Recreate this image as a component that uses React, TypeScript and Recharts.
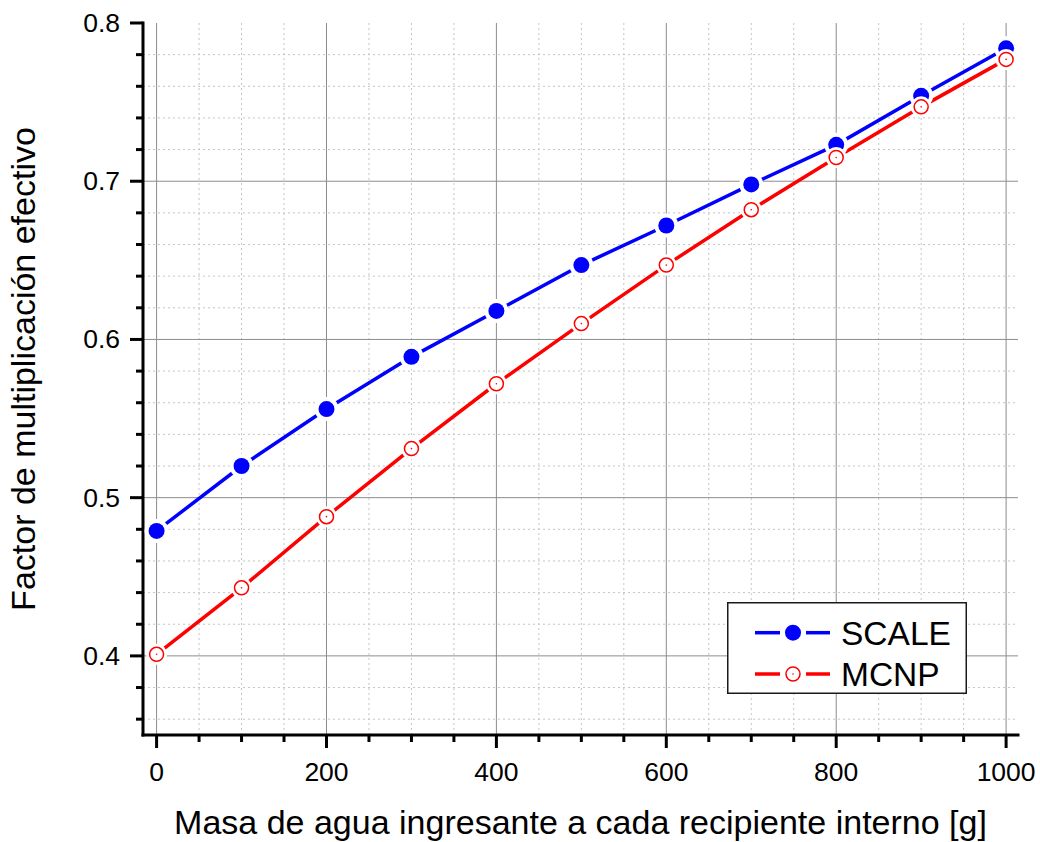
import React from 'react';
import { LineChart, Line, XAxis, YAxis, CartesianGrid, Legend } from 'recharts';

const xValues = [0, 100, 200, 300, 400, 500, 600, 700, 800, 900, 1000];
const scaleValues = [0.479, 0.52, 0.556, 0.589, 0.618, 0.647, 0.672, 0.698, 0.723, 0.754, 0.784];
const mcnpValues = [0.401, 0.443, 0.488, 0.531, 0.572, 0.61, 0.647, 0.682, 0.715, 0.747, 0.777];

const xTicks = [0, 50, 100, 150, 200, 250, 300, 350, 400, 450, 500, 550, 600, 650, 700, 750, 800, 850, 900, 950, 1000];
const xMajor = [0, 200, 400, 600, 800, 1000];
const xMinor = [50, 100, 150, 250, 300, 350, 450, 500, 550, 650, 700, 750, 850, 900, 950];
const yTicks = [0.36, 0.38, 0.4, 0.42, 0.44, 0.46, 0.48, 0.5, 0.52, 0.54, 0.56, 0.58, 0.6, 0.62, 0.64, 0.66, 0.68, 0.7, 0.72, 0.74, 0.76, 0.78, 0.8];
const yMajor = [0.4, 0.5, 0.6, 0.7, 0.8];
const yMinor = [0.36, 0.38, 0.42, 0.44, 0.46, 0.48, 0.52, 0.54, 0.56, 0.58, 0.62, 0.64, 0.66, 0.68, 0.72, 0.74, 0.76, 0.78];
const yTickLabels = ['0.4', '0.5', '0.6', '0.7', '0.8'];

const seriesNames = ['SCALE', 'MCNP'];
const colors = ['#0000ff', '#ff0000'];

const data = xValues.map((x, i) => ({ x, scale: scaleValues[i], mcnp: mcnpValues[i] }));

const FONT = '"Liberation Sans", Arial, Helvetica, sans-serif';
const MAJ = 13;
const MIN = 7;

const isMajorY = (v: number) => yMajor.some((m) => Math.abs(m - v) < 1e-6);
const isMajorX = (v: number) => xMajor.some((m) => Math.abs(m - v) < 1e-6);

const LeftTick = (p: any) => {
  const v = p.payload.value;
  const major = isMajorY(v);
  const idx = yMajor.findIndex((m) => Math.abs(m - v) < 1e-6);
  return (
    <g>
      <line x1={p.x} x2={p.x - (major ? MAJ : MIN)} y1={p.y} y2={p.y} stroke="#000" strokeWidth={3} />
      {major && (
        <text x={p.x - MAJ - 10} y={p.y} textAnchor="end" dominantBaseline="central" fontSize={26.5} fontFamily={FONT} fill="#000">
          {yTickLabels[idx]}
        </text>
      )}
    </g>
  );
};

const RightTick = (p: any) => {
  const major = isMajorY(p.payload.value);
  return <line x1={p.x} x2={p.x - (major ? MAJ : MIN)} y1={p.y} y2={p.y} stroke="#000" strokeWidth={3} />;
};

const BottomTick = (p: any) => {
  const v = p.payload.value;
  const major = isMajorX(v);
  return (
    <g>
      <line x1={p.x} x2={p.x} y1={p.y} y2={p.y + (major ? MAJ : MIN)} stroke="#000" strokeWidth={3} />
      {major && (
        <text x={p.x} y={p.y + 37} textAnchor="middle" dominantBaseline="central" fontSize={26.5} fontFamily={FONT} fill="#000">
          {v}
        </text>
      )}
    </g>
  );
};

const TopTick = (p: any) => {
  const major = isMajorX(p.payload.value);
  return <line x1={p.x} x2={p.x} y1={p.y} y2={p.y + (major ? MAJ : MIN)} stroke="#000" strokeWidth={3} />;
};

const YLabel = (props: any) => {
  const vb = props.viewBox || { x: 0, y: 23, width: 143, height: 712 };
  const cx = vb.x + 35;
  const cy = vb.y + vb.height / 2 - 10;
  return (
    <text x={cx} y={cy} transform={`rotate(-90 ${cx} ${cy})`} textAnchor="middle" fontSize={34} fontFamily={FONT} fill="#000">
      Factor de multiplicación efectivo
    </text>
  );
};

const XLabel = (props: any) => {
  const vb = props.viewBox || { x: 143, y: 735, width: 875, height: 107 };
  return (
    <text x={vb.x + vb.width / 2} y={vb.y + 99} textAnchor="middle" fontSize={34} fontFamily={FONT} fill="#000">
      Masa de agua ingresante a cada recipiente interno [g]
    </text>
  );
};

const ScaleDot = (p: any) => {
  if (p.cx == null || p.cy == null) return <g key={p.key} />;
  return (
    <g key={p.key ?? `s${p.index}`}>
      <circle cx={p.cx} cy={p.cy} r={12} fill="#fff" />
      <circle cx={p.cx} cy={p.cy} r={8} fill={colors[0]} />
    </g>
  );
};

const McnpDot = (p: any) => {
  if (p.cx == null || p.cy == null) return <g key={p.key} />;
  return (
    <g key={p.key ?? `m${p.index}`}>
      <circle cx={p.cx} cy={p.cy} r={10.5} fill="#fff" />
      <circle cx={p.cx} cy={p.cy} r={7} fill="#fff" stroke={colors[1]} strokeWidth={1.5} />
      <circle cx={p.cx} cy={p.cy} r={0.8} fill={colors[1]} />
    </g>
  );
};

const LegendBox = () => (
  <svg width={240} height={92} style={{ display: 'block' }}>
    <rect x={0.75} y={0.75} width={238.5} height={90.5} fill="#fff" stroke="#1a1a1a" strokeWidth={1.5} />
    <line x1={28} x2={53} y1={30.7} y2={30.7} stroke={colors[0]} strokeWidth={3.5} />
    <line x1={79} x2={103} y1={30.7} y2={30.7} stroke={colors[0]} strokeWidth={3.5} />
    <circle cx={66} cy={30.7} r={8} fill={colors[0]} />
    <text x={114} y={43} fontSize={33.5} fontFamily={FONT} fill="#000">{seriesNames[0]}</text>
    <line x1={28} x2={53} y1={72} y2={72} stroke={colors[1]} strokeWidth={3.5} />
    <line x1={79} x2={103} y1={72} y2={72} stroke={colors[1]} strokeWidth={3.5} />
    <circle cx={66} cy={72} r={7} fill="#fff" stroke={colors[1]} strokeWidth={1.5} />
    <circle cx={66} cy={72} r={0.8} fill={colors[1]} />
    <text x={114} y={84} fontSize={33.5} fontFamily={FONT} fill="#000">{seriesNames[1]}</text>
  </svg>
);

const axisLine = { stroke: '#000', strokeWidth: 3, strokeLinecap: 'square' as const };

export default function App() {
  return (
    <div style={{ position: 'absolute', left: 0, top: 0, width: 1040, height: 842, background: '#fff' }}>
      <LineChart width={1040} height={842} data={data} margin={{ top: 23, right: 22, bottom: 0, left: 0 }}>
        <CartesianGrid xAxisId="b" yAxisId="l" horizontalValues={yMinor} verticalValues={xMinor} stroke="#c4c4c4" strokeDasharray="2 3" strokeWidth={1} />
        <CartesianGrid xAxisId="b" yAxisId="l" horizontalValues={[0.4, 0.5, 0.6, 0.7]} verticalValues={xMajor} stroke="#8c8c8c" strokeWidth={1} />
        <XAxis
          xAxisId="b"
          dataKey="x"
          type="number"
          domain={[-16, 1014]}
          ticks={xTicks}
          interval={0}
          allowDataOverflow
          height={107}
          tickSize={0}
          tickMargin={0}
          tickLine={false}
          axisLine={axisLine}
          tick={BottomTick}
          label={XLabel}
        />
        <XAxis
          xAxisId="t"
          orientation="top"
          dataKey="x"
          type="number"
          domain={[-16, 1014]}
          ticks={xTicks}
          interval={0}
          allowDataOverflow
          height={0}
          tickSize={0}
          tickMargin={0}
          tickLine={false}
          axisLine={axisLine}
          tick={TopTick}
        />
        <YAxis
          yAxisId="l"
          type="number"
          domain={[0.35, 0.8]}
          ticks={yTicks}
          interval={0}
          allowDataOverflow
          width={143}
          tickSize={0}
          tickMargin={0}
          tickLine={false}
          axisLine={axisLine}
          tick={LeftTick}
          label={YLabel}
        />
        <YAxis
          yAxisId="r"
          orientation="right"
          type="number"
          domain={[0.35, 0.8]}
          ticks={yTicks}
          interval={0}
          allowDataOverflow
          width={0}
          tickSize={0}
          tickMargin={0}
          tickLine={false}
          axisLine={axisLine}
          tick={RightTick}
        />
        <Line xAxisId="b" yAxisId="l" dataKey="scale" name={seriesNames[0]} stroke={colors[0]} strokeWidth={3.5} dot={ScaleDot} activeDot={false} isAnimationActive={false} />
        <Line xAxisId="b" yAxisId="l" dataKey="mcnp" name={seriesNames[1]} stroke={colors[1]} strokeWidth={3.5} dot={McnpDot} activeDot={false} isAnimationActive={false} />
        <Legend
          layout="vertical"
          align="center"
          verticalAlign="middle"
          content={LegendBox}
          wrapperStyle={{ left: 727, top: 602, width: 240, height: 92 }}
        />
      </LineChart>
    </div>
  );
}
